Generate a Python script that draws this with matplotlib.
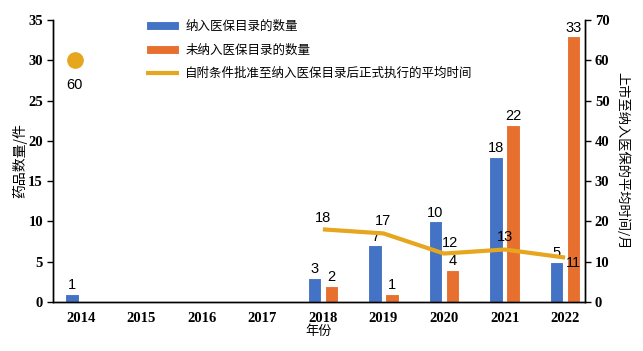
import numpy as np
import matplotlib
matplotlib.use("Agg")
import matplotlib.pyplot as plt
from matplotlib.font_manager import FontProperties

plt.rcParams['font.family'] = ['Noto Sans CJK SC', 'DejaVu Sans']

years = ["2014", "2015", "2016", "2017", "2018", "2019", "2020", "2021", "2022"]
included = [1, 0, 0, 0, 3, 7, 10, 18, 5]
not_included = [0, 0, 0, 0, 2, 1, 4, 22, 33]
avg_months = [60, None, None, None, 18, 17, 12, 13, 11]

blue = "#4472C4"
orange = "#E8702F"
gold = "#E6A61E"

fig, ax = plt.subplots(figsize=(6.43, 3.51), dpi=100)
fig.subplots_adjust(left=0.082, right=0.910, bottom=0.140, top=0.943)
ax2 = ax.twinx()

x = np.arange(len(years))
w = 0.22
off = 0.14
num_font = dict(family='Liberation Sans', fontsize=10.5)

b1 = ax.bar(x - off, included, w, color=blue, edgecolor='white', linewidth=0.8,
            label="纳入医保目录的数量")
b2 = ax.bar(x + off, not_included, w, color=orange, edgecolor='white', linewidth=0.8,
            label="未纳入医保目录的数量")
for xi, v in zip(x, included):
    if v:
        ax.text(xi - off, v + 0.2, str(v), ha='center', va='bottom', **num_font)
for xi, v in zip(x, not_included):
    if v:
        ax.text(xi + off, v + 0.2, str(v), ha='center', va='bottom', **num_font)

# average time line (right axis, drawn over the bars)
lx = [xi for xi, v in zip(x, avg_months) if v is not None and xi >= 4]
ly = [v for xi, v in zip(x, avg_months) if v is not None and xi >= 4]
ln, = ax2.plot(lx, ly, color=gold, lw=3, solid_capstyle='butt',
               label="自附条件批准至纳入医保目录后正式执行的平均时间")
ax2.plot([x[0] - 0.1], [avg_months[0]], 'o', color=gold, ms=11)
ax2.text(x[0] - 0.1, avg_months[0] - 4.5, str(avg_months[0]), ha='center', va='top', **num_font)
label_shift = {4: (0, 2.9), 5: (0, 3.2), 6: (0.1, 2.7), 7: (0, 3.0)}
for xi, v in zip(lx, ly):
    if xi in label_shift:
        dx, dy = label_shift[xi]
        ax2.text(xi + dx, v + dy, str(v), ha='center', va='center', **num_font)
    else:
        ax2.text(xi + 0.02, v - 1.3, str(v), ha='left', va='center', **num_font)

ax.set_xlim(-0.46, 8.33)
ax.set_ylim(0, 35)
ax2.set_ylim(0, 70)
ax.set_yticks(range(0, 36, 5))
ax2.set_yticks(range(0, 71, 10))
ax.set_xticks(x)
ax.set_xticklabels(years)

tick_fp = FontProperties(family='Liberation Serif', size=10.5, weight='bold')
for lab in ax.get_xticklabels() + ax.get_yticklabels() + ax2.get_yticklabels():
    lab.set_fontproperties(tick_fp)
ax.tick_params(axis='x', length=0, pad=7)
ax.tick_params(axis='y', length=4, width=1, direction='out', pad=3)
ax2.tick_params(axis='y', length=4, width=1, direction='out', pad=3)

for a in (ax, ax2):
    a.spines['top'].set_visible(False)
    for s in ('left', 'right', 'bottom'):
        a.spines[s].set_linewidth(1)

ax.set_xlabel("年份", fontsize=9.5, labelpad=0)
ax.set_ylabel("药品数量/件", fontsize=10, labelpad=1)
ax2.set_ylabel("上市至纳入医保的平均时间/月", fontsize=9.5, rotation=270, labelpad=14)

ax2.legend(handles=[b1, b2, ln], loc='upper left', bbox_to_anchor=(0.155, 1.04),
           frameon=False, fontsize=9, handlelength=2.6, labelspacing=0.85,
           handletextpad=0.5)

fig.savefig("out.png", dpi=100)
